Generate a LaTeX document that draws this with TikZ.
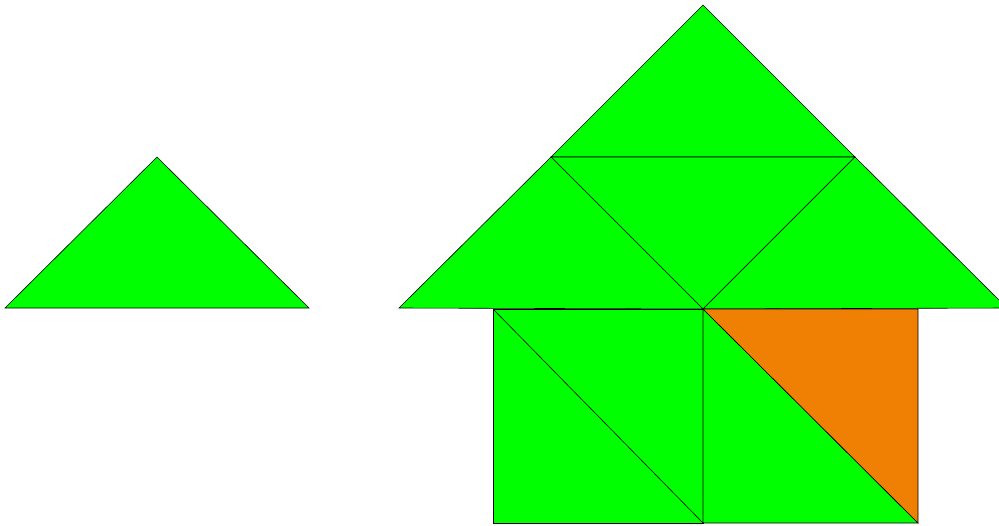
\documentclass[tikz,border=0pt]{standalone}
\definecolor{tgreen}{RGB}{0,255,0}
\definecolor{torange}{RGB}{240,128,4}
\begin{document}
\begin{tikzpicture}[x=1pt,y=-1pt,
  piece/.style={fill=tgreen,draw=black,line width=0.6pt,line join=miter},
  opiece/.style={fill=torange,draw=black,line width=0.6pt}]
\useasboundingbox (0,0) rectangle (999,525);
\clip (0,0) rectangle (999,525);
% left triangle
\draw[piece] (5,308) -- (157,157) -- (309,308) -- cycle;
% roof
\draw[piece] (551,157) -- (703,5) -- (855,157) -- cycle;
\draw[piece] (551,157) -- (855,157) -- (703,309) -- cycle;
\draw[piece] (399,308) -- (551,157) -- (703,309) -- cycle;
\draw[piece] (703,309) -- (855,157) -- (1007,308) -- cycle;
% walls
\draw[piece] (493,309) rectangle (703,523);
\draw[piece] (493,309) -- (703,523);
\draw[piece] (703,309) -- (703,523) -- (918,523) -- cycle;
\draw[opiece] (703,309) -- (918,309) -- (918,523) -- cycle;
\end{tikzpicture}
\end{document}
